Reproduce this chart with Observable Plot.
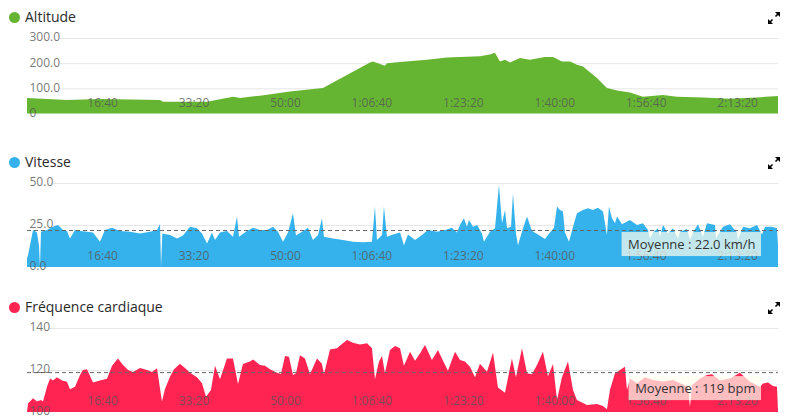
<!DOCTYPE html>
<html>
<head>
<meta charset="utf-8">
<script src="https://cdn.jsdelivr.net/npm/d3@7"></script>
<script src="https://cdn.jsdelivr.net/npm/@observablehq/plot@0.6"></script>
<style>
  html, body { margin: 0; padding: 0; background: #fff; }
  body { width: 793px; height: 419px; overflow: hidden; font-family: "Open Sans", sans-serif; }
  .panel { position: relative; width: 793px; }
  .head { position: relative; height: 28px; }
  .dot { position: absolute; left: 9px; top: 12px; width: 11px; height: 11px; border-radius: 50%; }
  .title { position: absolute; left: 25px; top: 7px; font-size: 14px; line-height: 20px; color: #2a2a2a; white-space: nowrap; }
  .expand { position: absolute; left: 767px; top: 11px; }
  .panel > svg { display: block; }
</style>
</head>
<body>
<div id="root"></div>
<script>
// ---- x axis ticks (seconds) ----
const xTickValues = [1000, 2000, 3000, 4000, 5000, 6000, 7000, 8000];
const xTickLabels = ["16:40", "33:20", "50:00", "1:06:40", "1:23:20", "1:40:00", "1:56:40", "2:13:20"];
const xMax = 8214;

// ---- Altitude ----
const altT = [0,437,798,1127,1455,1487,1969,2253,2330,2548,2876,3237,3751,3784,3915,3937,4079,4375,4594,4736,4954,5064,5118,5173,5228,5283,5392,5501,5665,5753,5851,5939,6015,6081,6234,6343,6453,6595,6737,6956,7109,7393,7689,7984,8214];
const altV = [62,54,58,56,54,47,47,67,62,71,87,101,203,207,190,200,205,214,223,225,227,234,241,207,214,203,221,214,225,225,207,207,194,187,141,101,91,83,67,74,67,64,59,64,70];
const altTicks = [0, 100, 200, 300];
const altTickLabels = ["0", "100.0", "200.0", "300.0"];

// ---- Vitesse ----
const spdT = [0,11,66,109,131,142,153,219,284,339,394,437,470,525,580,656,722,798,853,930,1017,1127,1236,1345,1422,1455,1466,1480,1564,1641,1706,1783,1859,1914,1969,2023,2056,2111,2187,2253,2297,2319,2406,2472,2548,2625,2691,2745,2800,2855,2909,2942,3008,3073,3128,3183,3226,3248,3347,3456,3565,3675,3773,3806,3828,3883,3904,3937,4003,4080,4123,4167,4244,4320,4386,4484,4572,4648,4703,4736,4779,4812,4834,4878,4922,4976,4998,5064,5119,5162,5195,5228,5250,5294,5315,5348,5370,5425,5469,5523,5589,5665,5720,5764,5797,5829,5862,5884,5928,5972,6015,6081,6136,6190,6245,6300,6343,6365,6398,6431,6453,6508,6595,6672,6737,6792,6814,6847,6901,6923,6956,7011,7065,7120,7142,7218,7251,7284,7339,7393,7437,7525,7536,7612,7689,7765,7776,7831,7907,7984,8039,8072,8148,8203,8214];
const spdV = [5,7,22,20.6,13,0,21,22,24,25,22,21.5,17,22,21.4,21,20.6,15,22,23.4,21.5,21,20,21,22,25.6,0,20,19,17,18.7,24,23,20,14,20.6,16,20.6,21.5,18,30,18,21.4,23.4,22,22,24,21,15,20.6,32,18.7,21,23.4,16,19,29,18,17,16,15,14.7,15,36,16,19,36,18,19.4,20.6,13,19.4,16,19,22,21,22,23.4,20.6,25,29,24,28,24,25,20,15,21,23,48.8,26,34,23,24,43.8,20,13,23,30,21.4,19.4,16.7,20.6,23.4,36,34,33,20.6,15,24,32,34,35,34,35.3,33,19,36,29,26,30,25.4,28,25,26,22,17,20.6,23,18,25,20,23,17,21,22.6,16,20.6,25.4,18,26,25,17,24,25.4,20.6,16,24,23,25,19.4,24,24,23,13];
const spdTicks = [0, 25, 50];
const spdTickLabels = ["0.0", "25.0", "50.0"];
const spdMean = 22.0;
const spdMeanLabel = "Moyenne : 22.0 km/h";

// ---- Fréquence cardiaque ----
const hrT = [0,11,66,109,153,175,219,252,284,328,383,437,470,525,580,612,656,722,798,875,930,995,1050,1105,1159,1236,1312,1367,1422,1476,1509,1564,1608,1673,1728,1783,1859,1914,1958,2012,2056,2111,2187,2253,2308,2362,2439,2472,2548,2603,2658,2734,2778,2822,2865,2909,2942,2986,3040,3095,3172,3226,3248,3314,3390,3456,3500,3565,3642,3719,3773,3806,3850,3883,3915,3970,4025,4080,4123,4189,4244,4298,4353,4429,4495,4550,4604,4681,4736,4790,4845,4900,4954,5031,5097,5151,5228,5304,5348,5414,5469,5523,5578,5643,5698,5753,5797,5851,5917,5972,6015,6125,6234,6300,6343,6376,6431,6486,6540,6562,6595,6672,6759,6847,6956,7065,7229,7251,7273,7361,7437,7492,7579,7689,7798,7907,8017,8050,8104,8159,8203,8214];
const hrV = [100,104,106.5,105,105.7,105,112,116,115,116.5,115,114.4,110.8,112,117.6,120,120.3,114,115,115.8,122,125.5,122.4,120,119,121,120,119,120.8,105,111,116.8,120.3,123,121,118.7,116.5,113.7,107.3,110.5,122,115.6,125.5,125.5,113.3,122.9,124,125,122.4,122,120.3,118.7,118.1,126.7,126.3,117.6,118.4,127,125.5,118,125.5,123,118,129.8,130.3,132.7,134.3,133,132.2,132.7,130.3,115.6,124,126.7,118.4,129.5,131.4,130.3,122,128.7,124.4,127.9,131.9,124.8,129.5,124.4,119.7,128.7,124.8,124,121.6,116.5,123,119.2,128.3,111.7,109.2,125.5,116.5,130.3,118.4,118,122.4,128.7,117,122.9,105.7,116.5,124,110.5,105.7,103.3,103.8,102.9,101.3,110.5,118.4,120,121.6,110.5,116,113.7,116.5,115.2,114.5,115.2,112,102.5,112.7,116,117.6,118,115,116,118.7,114.4,112,113.6,114,112.4,112,100];
const hrTicks = [100, 120, 140];
const hrTickLabels = ["100", "120", "140"];
const hrMean = 119;
const hrMeanLabel = "Moyenne : 119 bpm";

const panels = [
  { title: "Altitude", color: "#66b532", t: altT, v: altV, domain: [0, 300], ticks: altTicks, labels: altTickLabels,
    gridInset: 33, svgH: 117, mb: 31.5, xdy: -7, mean: null },
  { title: "Vitesse", color: "#35b2ec", t: spdT, v: spdV, domain: [0, 50], ticks: spdTicks, labels: spdTickLabels,
    gridInset: 26, svgH: 117, mb: 23, xdy: -8, mean: spdMean, meanLabel: spdMeanLabel, meanDy: 14 },
  { title: "Fréquence cardiaque", color: "#ff2452", t: hrT, v: hrV, domain: [100, 140], ticks: hrTicks, labels: hrTickLabels,
    gridInset: 22, svgH: 101, mb: 7, xdy: -8, mean: hrMean, meanLabel: hrMeanLabel, meanDy: 16 }
];

const root = document.getElementById("root");
const expandSvg = '<svg class="expand" width="14" height="14" viewBox="0 0 14 14">' +
  '<path d="M8 1 L13 1 L13 6 Z" fill="#000"/><path d="M11.5 2.5 L8.5 5.5" stroke="#000" stroke-width="1.6"/>' +
  '<path d="M1 8 L1 13 L6 13 Z" fill="#000"/><path d="M2.5 11.5 L5.5 8.5" stroke="#000" stroke-width="1.6"/></svg>';

const meanFont = 13;
const measureCtx = document.createElement("canvas").getContext("2d");
measureCtx.font = meanFont + "px 'Open Sans'";

for (const p of panels) {
  const div = document.createElement("div");
  div.className = "panel";
  div.innerHTML = `<div class="head"><span class="dot" style="background:${p.color}"></span><span class="title">${p.title}</span>${expandSvg}</div>`;
  root.appendChild(div);

  const rows = p.t.map((t, i) => ({ t, v: p.v[i] }));
  const base = p.domain[0];
  const marks = [
    Plot.ruleY(p.ticks.filter(d => d !== base), { y: d => d, stroke: "#e6e6e6", strokeWidth: 1, insetLeft: p.gridInset }),
    Plot.areaY(rows, { x: "t", y1: base, y2: "v", fill: p.color, curve: "linear" }),
  ];
  if (p.mean != null) {
    marks.push(Plot.ruleY([p.mean], { y: d => d, stroke: "#666", strokeWidth: 1, strokeDasharray: "4,3" }));
  }
  marks.push(
    Plot.text(p.ticks, { y: d => d, text: (d, i) => p.labels[i], frameAnchor: "left", textAnchor: "start",
      dx: 2, dy: -1, fill: "#555", fillOpacity: 0.8, fontSize: 12 }),
    Plot.text(xTickValues, { x: d => d, text: (d, i) => xTickLabels[i], frameAnchor: "bottom", textAnchor: "end",
      dx: -1, dy: p.xdy, fill: "#555", fillOpacity: 0.8, fontSize: 12 })
  );
  if (p.mean != null) {
    marks.push(Plot.text([p.mean], { y: d => d, text: () => p.meanLabel, frameAnchor: "right", textAnchor: "end",
      dx: -23, dy: p.meanDy, fill: "#333", fontSize: meanFont }));
  }

  const svg = Plot.plot({
    width: 793,
    height: p.svgH,
    marginLeft: 27,
    marginRight: 15,
    marginTop: 10,
    marginBottom: p.mb,
    x: { domain: [0, xMax], axis: null },
    y: { domain: p.domain, axis: null },
    style: { fontFamily: "'Open Sans', sans-serif", fontSize: "12px", background: "transparent", overflow: "visible" },
    marks
  });
  div.appendChild(svg);

  if (p.mean != null) {
    try {
      const xs = svg.scale("x"), ys = svg.scale("y");
      const right = xs.apply(xMax) - 23;
      const cy = ys.apply(p.mean) + p.meanDy;
      const w = measureCtx.measureText(p.meanLabel).width;
      const rect = document.createElementNS("http://www.w3.org/2000/svg", "rect");
      rect.setAttribute("x", right - w - 6);
      rect.setAttribute("y", cy - 12);
      rect.setAttribute("width", w + 12);
      rect.setAttribute("height", 24);
      rect.setAttribute("fill", "rgba(255,255,240,0.7)");
      svg.insertBefore(rect, svg.lastElementChild);
    } catch (e) {
      console.error(e);
    }
  }
}
</script>
</body>
</html>
